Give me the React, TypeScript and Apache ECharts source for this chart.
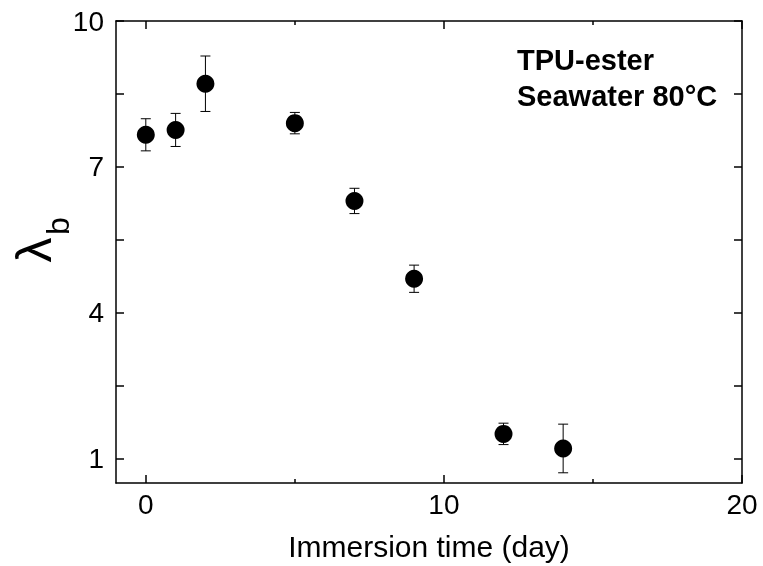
import React, { useEffect, useRef } from "react";
import * as echarts from "echarts";

const days = [0, 1, 2, 5, 7, 9, 12, 14];
const lambdaB = [7.66, 7.76, 8.71, 7.9, 6.3, 4.7, 1.51, 1.21];
const errors = [0.33, 0.34, 0.57, 0.22, 0.26, 0.28, 0.22, 0.5];
const xMajorTicks = [0, 10, 20];
const xMinorTicks = [5, 15];
const yMajorTicks = [1, 4, 7, 10];
const yAllTicks = [1, 2.5, 4, 5.5, 7, 8.5, 10];
const annotation = ["TPU-ester", "Seawater 80°C"];
const xTitle = "Immersion time (day)";

const FONT = "'Liberation Sans', Arial, Helvetica, sans-serif";

export default function App() {
  const ref = useRef<HTMLDivElement>(null);
  useEffect(() => {
    if (!ref.current) return;
    const chart = echarts.init(ref.current, undefined, { renderer: "svg" });
    const line = { show: true, onZero: false, lineStyle: { color: "#000", width: 1.5 } };
    const noLine = { show: false, onZero: false };
    const xBase = { type: "value", min: -1, max: 20, gridIndex: 0, splitLine: { show: false } };
    const yBase = { type: "value", min: 0.5, max: 10, gridIndex: 0, splitLine: { show: false } };
    const tick = (len: number, vals: number[]) => ({
      show: true,
      inside: true,
      length: len,
      customValues: vals,
      lineStyle: { color: "#000", width: 1.5 },
    });
    const points = days.map((d, i) => [d, lambdaB[i]]);
    const bars = days.map((d, i) => [d, lambdaB[i] - errors[i], lambdaB[i] + errors[i]]);
    chart.setOption({
      animation: false,
      textStyle: { fontFamily: FONT },
      grid: { left: 116, top: 21, right: 21, bottom: 83, containLabel: false },
      xAxis: [
        {
          ...xBase,
          position: "bottom",
          axisLine: line,
          axisTick: tick(8, xMajorTicks),
          axisLabel: { show: true, customValues: xMajorTicks, color: "#000", fontSize: 28, margin: 7, fontFamily: FONT },
          name: xTitle,
          nameLocation: "middle",
          nameGap: 48,
          nameTextStyle: { color: "#000", fontSize: 30, fontFamily: FONT },
        },
        {
          ...xBase,
          position: "bottom",
          axisLine: noLine,
          axisTick: tick(4, xMinorTicks),
          axisLabel: { show: false },
        },
        {
          ...xBase,
          position: "top",
          axisLine: line,
          axisTick: tick(8, xMajorTicks),
          axisLabel: { show: false },
        },
        {
          ...xBase,
          position: "top",
          axisLine: noLine,
          axisTick: tick(4, xMinorTicks),
          axisLabel: { show: false },
        },
      ],
      yAxis: [
        {
          ...yBase,
          position: "left",
          axisLine: line,
          axisTick: tick(8, yAllTicks),
          axisLabel: { show: true, customValues: yMajorTicks, color: "#000", fontSize: 28, margin: 12, fontFamily: FONT },
        },
        {
          ...yBase,
          position: "right",
          axisLine: line,
          axisTick: tick(8, yAllTicks),
          axisLabel: { show: false },
        },
      ],
      series: [
        {
          type: "custom",
          xAxisIndex: 0,
          yAxisIndex: 0,
          data: bars,
          encode: { x: 0, y: [1, 2] },
          z: 1,
          renderItem: (params: any, api: any) => {
            const x = api.value(0);
            const lo = api.coord([x, api.value(1)]);
            const hi = api.coord([x, api.value(2)]);
            const cap = 5;
            const style = { stroke: "#000", lineWidth: 1 };
            return {
              type: "group",
              children: [
                { type: "line", shape: { x1: lo[0], y1: lo[1], x2: hi[0], y2: hi[1] }, style },
                { type: "line", shape: { x1: lo[0] - cap, y1: lo[1], x2: lo[0] + cap, y2: lo[1] }, style },
                { type: "line", shape: { x1: hi[0] - cap, y1: hi[1], x2: hi[0] + cap, y2: hi[1] }, style },
              ],
            };
          },
        },
        {
          type: "scatter",
          xAxisIndex: 0,
          yAxisIndex: 0,
          data: points,
          symbol: "circle",
          symbolSize: 18,
          itemStyle: { color: "#000", opacity: 1 },
          z: 3,
        },
      ],
      graphic: [
        {
          type: "text",
          left: 517,
          top: 45,
          style: { text: annotation[0], font: `bold 29px ${FONT}`, fill: "#000" },
        },
        {
          type: "text",
          left: 517,
          top: 81,
          style: { text: annotation[1], font: `bold 29px ${FONT}`, fill: "#000" },
        },
        {
          type: "text",
          x: 34,
          y: 250,
          rotation: Math.PI / 2,
          style: { text: "λ", font: `50px ${FONT}`, fill: "#000", align: "center", verticalAlign: "middle" },
        },
        {
          type: "text",
          x: 58,
          y: 226,
          rotation: Math.PI / 2,
          style: { text: "b", font: `32px ${FONT}`, fill: "#000", align: "center", verticalAlign: "middle" },
        },
      ],
    });
    return () => chart.dispose();
  }, []);
  return <div ref={ref} style={{ position: "fixed", left: 0, top: 0, width: 763, height: 566 }} />;
}
